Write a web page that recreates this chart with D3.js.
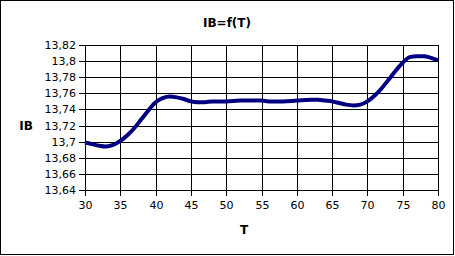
<!DOCTYPE html>
<html>
<head>
<meta charset="utf-8">
<script src="https://cdn.jsdelivr.net/npm/d3@7"></script>
<style>
  body { margin: 0; background: #fff; }
  text { font-family: "DejaVu Sans", sans-serif; }
</style>
</head>
<body>
<script>
// Data
const temps = [30, 31, 32, 33, 34, 35, 36, 37, 38, 39, 40, 41, 42, 43, 44, 45, 46, 47, 48, 50, 52, 55, 56, 58, 60, 62, 63, 64, 65, 66, 67, 68, 69, 70, 71, 72, 73, 74, 75, 76, 77, 78, 79, 80]
const ibValues = [13.699, 13.697, 13.695, 13.694, 13.696, 13.701, 13.708, 13.717, 13.728, 13.739, 13.749, 13.754, 13.756, 13.755, 13.753, 13.750, 13.749, 13.749, 13.750, 13.750, 13.751, 13.751, 13.750, 13.750, 13.751, 13.752, 13.752, 13.751, 13.750, 13.748, 13.746, 13.745, 13.746, 13.750, 13.757, 13.766, 13.777, 13.788, 13.798, 13.805, 13.806, 13.806, 13.804, 13.801]
const xTicks = [30, 35, 40, 45, 50, 55, 60, 65, 70, 75, 80]
const yTicks = [13.64, 13.66, 13.68, 13.70, 13.72, 13.74, 13.76, 13.78, 13.80, 13.82]

const width = 455
const height = 256
const plotLeft = 85, plotRight = 438, plotTop = 45, plotBottom = 190

const data = temps.map((t, i) => ({ t: t, v: ibValues[i] }))

const svg = d3.select("body").append("svg")
    .attr("width", width)
    .attr("height", height)

// outer frame
svg.append("rect")
    .attr("x", 0.5).attr("y", 0.5)
    .attr("width", 453).attr("height", 254)
    .attr("fill", "#fff")
    .attr("stroke", "#000")

const xScale = d3.scaleLinear().domain([30, 80]).range([plotLeft, plotRight])
const yScale = d3.scaleLinear().domain([13.64, 13.82]).range([plotBottom, plotTop])

// comma decimal like the original
const fmt = (d) => String(+d.toFixed(2)).replace(".", ",")

// grid lines
svg.append("g")
    .selectAll("line")
    .data(yTicks)
    .join("line")
    .attr("x1", plotLeft).attr("x2", plotRight + 1)
    .attr("y1", (d) => Math.round(yScale(d)) + 0.5)
    .attr("y2", (d) => Math.round(yScale(d)) + 0.5)
    .attr("stroke", "#000")

svg.append("g")
    .selectAll("line")
    .data(xTicks)
    .join("line")
    .attr("y1", plotTop).attr("y2", plotBottom + 1)
    .attr("x1", (d) => Math.round(xScale(d)) + 0.5)
    .attr("x2", (d) => Math.round(xScale(d)) + 0.5)
    .attr("stroke", "#000")

// axes
const yAxis = svg.append("g")
    .attr("transform", `translate(${plotLeft}, 0)`)
    .call(d3.axisLeft(yScale).tickValues(yTicks).tickFormat(fmt).tickSize(6).tickPadding(3).offset(0))
const xAxis = svg.append("g")
    .attr("transform", `translate(0, ${plotBottom})`)
    .call(d3.axisBottom(xScale).tickValues(xTicks).tickFormat(fmt).tickSize(6).tickPadding(5).offset(0))

for (const ax of [xAxis, yAxis]) {
    ax.select(".domain").remove()
    ax.selectAll("line").attr("stroke", "#000")
    ax.selectAll("text")
        .attr("fill", "#000")
        .style("font-size", "11px")
        .style("font-family", "'DejaVu Sans', sans-serif")
}
// snap tick marks to pixels
yAxis.selectAll(".tick").attr("transform", (d) => `translate(0, ${Math.round(yScale(d)) + 0.5})`)
xAxis.selectAll(".tick").attr("transform", (d) => `translate(${Math.round(xScale(d)) + 0.5}, 0)`)

// the curve
svg.append("path")
    .datum(data)
    .attr("fill", "none")
    .attr("stroke", "#000080")
    .attr("stroke-width", 4)
    .attr("stroke-linejoin", "round")
    .attr("d", d3.line()
        .x((d) => xScale(d.t))
        .y((d) => yScale(d.v))
        .curve(d3.curveMonotoneX))

// titles
svg.append("text")
    .attr("x", 227).attr("y", 27)
    .attr("text-anchor", "middle")
    .style("font-size", "12px").style("font-weight", "bold")
    .text("IB=f(T)")

svg.append("text")
    .attr("x", 26).attr("y", 130)
    .attr("text-anchor", "middle")
    .style("font-size", "12px").style("font-weight", "bold")
    .text("IB")

svg.append("text")
    .attr("x", 244).attr("y", 234)
    .attr("text-anchor", "middle")
    .style("font-size", "12px").style("font-weight", "bold")
    .text("T")
</script>
</body>
</html>
